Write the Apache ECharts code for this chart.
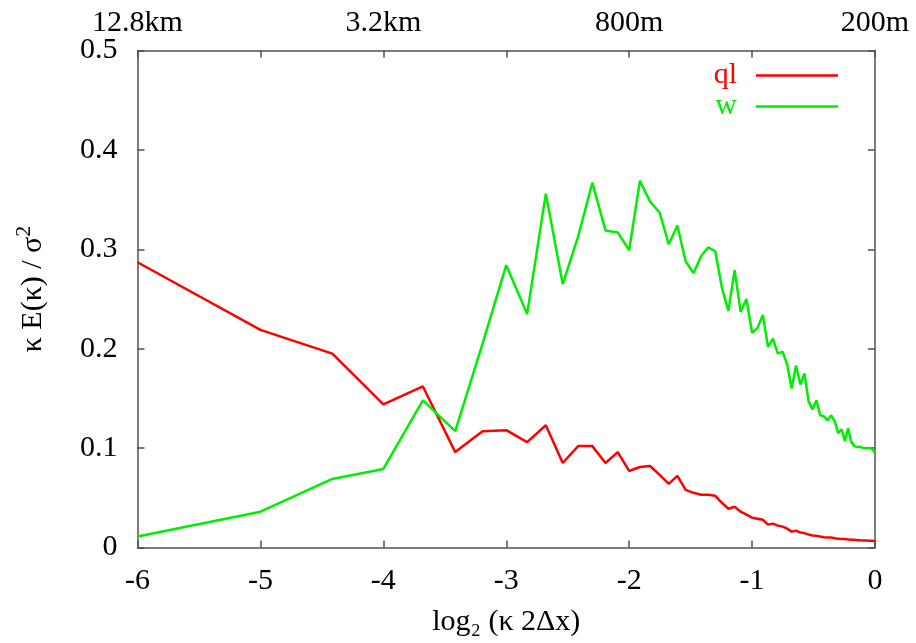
<!DOCTYPE html>
<html>
<head>
<meta charset="utf-8">
<script src="https://cdn.jsdelivr.net/npm/echarts@6/dist/echarts.min.js"></script>
<style>
html,body{margin:0;padding:0;background:#fff;}
#chart{width:916px;height:643px;}
</style>
</head>
<body>
<div id="chart"></div>
<script>
// wavenumber index k (1..64); x position = log2(k * 2Δx) = log2(k/64)
const wavenumbers = [1,2,3,4,5,6,7,8,9,10,11,12,13,14,15,16,17,18,19,20,21,22,23,24,25,26,27,28,29,30,31,32,
  33,34,35,36,37,38,39,40,41,42,43,44,45,46,47,48,49,50,51,52,53,54,55,56,57,58,59,60,61,62,63,64];
const qlValues = [0.287,0.219,0.195,0.144,0.162,0.096,0.117,0.118,0.106,0.123,0.085,0.102,0.102,0.085,0.096,0.077,
  0.081,0.082,0.073,0.064,0.072,0.058,0.055,0.053,0.053,0.052,0.045,0.039,0.041,0.036,0.033,0.030,
  0.029,0.028,0.023,0.024,0.022,0.021,0.019,0.016,0.017,0.015,0.0145,0.013,0.012,0.0117,0.011,0.0104,
  0.010,0.010,0.0094,0.0087,0.0085,0.0085,0.0081,0.0077,0.0077,0.0074,0.0072,0.0071,0.0071,0.0068,0.0068,0.0064];
const wValues = [0.011,0.036,0.069,0.079,0.148,0.117,0.205,0.284,0.235,0.356,0.265,0.313,0.367,0.319,0.317,0.299,
  0.369,0.348,0.337,0.305,0.324,0.288,0.276,0.293,0.302,0.298,0.261,0.238,0.279,0.237,0.250,0.216,
  0.221,0.234,0.202,0.210,0.195,0.197,0.184,0.160,0.183,0.164,0.175,0.147,0.139,0.148,0.133,0.132,
  0.128,0.133,0.127,0.115,0.119,0.107,0.120,0.106,0.102,0.101,0.101,0.100,0.100,0.100,0.099,0.095];
const topTickValues = [-6,-4,-2,0];
const topTickLabels = ['12.8km','3.2km','800m','200m'];
const seriesNames = ['ql','w'];
const seriesColors = ['#ff0000','#00ee00'];

const FONT = 'Liberation Serif';
const FS = 30;
const AX = '#505050';
const xs = wavenumbers.map(k => Math.log2(k / 64));
const qlData = xs.map((x, i) => [x, qlValues[i]]);
const wData = xs.map((x, i) => [x, wValues[i]]);

const chart = echarts.init(document.getElementById('chart'), null, {renderer: 'canvas'});
function axisCommon() {
  return {
    axisLine: {show: true, onZero: false, lineStyle: {color: AX, width: 1.5}},
    axisTick: {show: true, inside: true, length: 7, lineStyle: {color: AX, width: 1.5}},
    splitLine: {show: false}
  };
}
chart.setOption({
  animation: false,
  backgroundColor: '#fff',
  grid: {left: 137.5, right: 41, top: 50.5, bottom: 95.5, show: false},
  legend: {
    orient: 'vertical',
    right: 78,
    top: 60,
    padding: 0,
    align: 'right',
    icon: 'rect',
    itemWidth: 82,
    itemHeight: 2.5,
    itemGap: 0,
    selectedMode: false,
    textStyle: {fontFamily: FONT, fontSize: FS, lineHeight: 31, padding: [0, 14, 0, 0]},
    data: seriesNames.map((n, i) => ({name: n, textStyle: {color: seriesColors[i]}}))
  },
  xAxis: [
    Object.assign({
      type: 'value', position: 'bottom', min: -6, max: 0, interval: 1,
      name: 'log\u2082 (\u03ba 2\u0394x)', nameLocation: 'middle', nameGap: 60,
      nameTextStyle: {fontFamily: FONT, fontSize: FS, color: '#000'},
      axisLabel: {fontFamily: FONT, fontSize: FS, color: '#000', margin: 19}
    }, axisCommon()),
    Object.assign({
      type: 'value', position: 'top', min: -6, max: 0, interval: 1,
      axisLabel: {fontFamily: FONT, fontSize: FS, color: '#000', margin: 12,
        formatter: v => { const i = topTickValues.indexOf(v); return i >= 0 ? topTickLabels[i] : ''; }}
    }, axisCommon())
  ],
  yAxis: [
    Object.assign({
      type: 'value', position: 'left', min: 0, max: 0.5, interval: 0.1,
      axisLabel: {fontFamily: FONT, fontSize: FS, color: '#000', margin: 20}
    }, axisCommon()),
    Object.assign({
      type: 'value', position: 'right', min: 0, max: 0.5, interval: 0.1,
      axisLabel: {show: false}
    }, axisCommon())
  ],
  graphic: [{
    type: 'text',
    x: 33, y: 289,
    rotation: Math.PI / 2,
    style: {
      text: '{m|\u03ba E(\u03ba) / \u03c3}{s|2}',
      fontFamily: FONT, fontSize: FS, fill: '#000',
      align: 'center', verticalAlign: 'middle',
      rich: {
        m: {fontFamily: FONT, fontSize: FS, lineHeight: 40, fill: '#000'},
        s: {fontFamily: FONT, fontSize: 22, lineHeight: 24, verticalAlign: 'top', fill: '#000'}
      }
    }
  }],
  series: [
    {name: seriesNames[0], type: 'line', data: qlData, showSymbol: false, symbol: 'none',
     lineStyle: {color: seriesColors[0], width: 2.5}, itemStyle: {color: seriesColors[0]}, xAxisIndex: 0, yAxisIndex: 0},
    {name: seriesNames[1], type: 'line', data: wData, showSymbol: false, symbol: 'none',
     lineStyle: {color: seriesColors[1], width: 2.5}, itemStyle: {color: seriesColors[1]}, xAxisIndex: 0, yAxisIndex: 0}
  ]
});
</script>
</body>
</html>
